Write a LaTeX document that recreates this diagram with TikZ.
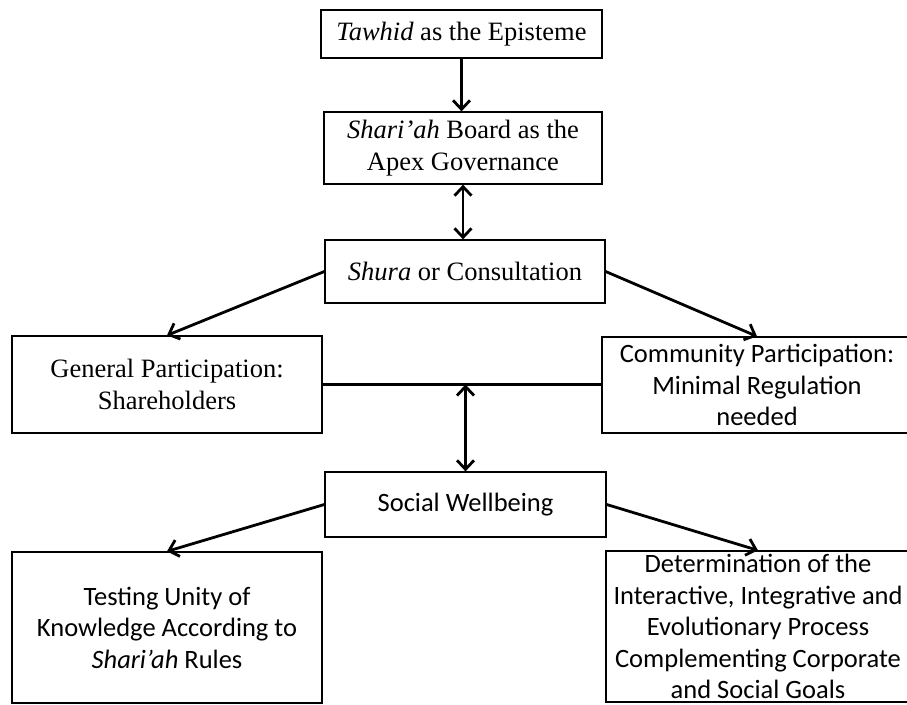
\documentclass[tikz,border=0pt]{standalone}
\usepackage{fontspec}
\setmainfont{Liberation Serif}
\newfontfamily\calibfont{Carlito}
\usetikzlibrary{arrows.meta}
\begin{document}
\begin{tikzpicture}[x=1pt,y=-1pt,
  box/.style={draw=black, line width=1.3pt, fill=white, inner sep=0pt,
    align=center, anchor=center},
  serifbox/.style={box, font={\fontsize{26.5}{32}\selectfont}},
  sansbox/.style={box, font={\calibfont\fontsize{26.5}{31.5}\selectfont}},
  link/.style={line width=2.8pt, -{Straight Barb[length=9pt,width=17pt]}},
  twoway/.style={line width=2.8pt, {Straight Barb[length=9pt,width=17pt]}-{Straight Barb[length=9pt,width=17pt]}},
  bar/.style={line width=2.8pt}]
\useasboundingbox (0,0) rectangle (907,704);

% governance chain
\node[serifbox, minimum width=281pt, minimum height=48pt] (tawhid) at (461.5,34)
  {\textit{Tawhid} as the Episteme};
\node[serifbox, minimum width=278pt, minimum height=72pt] (board) at (463,148)
  {\textit{Shari’ah} Board as the\\Apex Governance};
\node[serifbox, minimum width=280pt, minimum height=63pt] (shura) at (465,271.5)
  {\textit{Shura} or Consultation};

% participation level
\node[serifbox, minimum width=310pt, minimum height=97pt] (general) at (167,384.5)
  {General Participation:\\Shareholders};
\node[sansbox, minimum width=310pt, minimum height=96pt] (community) at (757,385)
  {Community Participation:\\Minimal Regulation\\needed};

% outcomes
\node[sansbox, minimum width=281pt, minimum height=65pt] (wellbeing) at (465.5,504.5)
  {Social Wellbeing};
\node[sansbox, minimum width=310pt, minimum height=151pt] (testing) at (167,627.5)
  {Testing Unity of\\Knowledge According to\\\textit{Shari’ah} Rules};
\node[sansbox, minimum width=304pt, minimum height=151pt] (process) at (758,626.5)
  {Determination of the\\Interactive, Integrative and\\Evolutionary Process\\Complementing Corporate\\and Social Goals};

% connectors
\draw[link] (tawhid.south) -- (tawhid.south |- board.north);
\draw[twoway] (board.south) -- (board.south |- shura.north);
\draw[link] (shura.west) -- (general.north);
\draw[link] (shura.east) -- (community.north);
\draw[bar] (general.east) -- (general.east -| community.west);
\coordinate (join) at (wellbeing.north |- general.east);
\draw[twoway] (join) -- (wellbeing.north);
\draw[link] (wellbeing.west) -- (testing.north);
\draw[link] (wellbeing.east) -- (process.north);
\end{tikzpicture}
\end{document}
